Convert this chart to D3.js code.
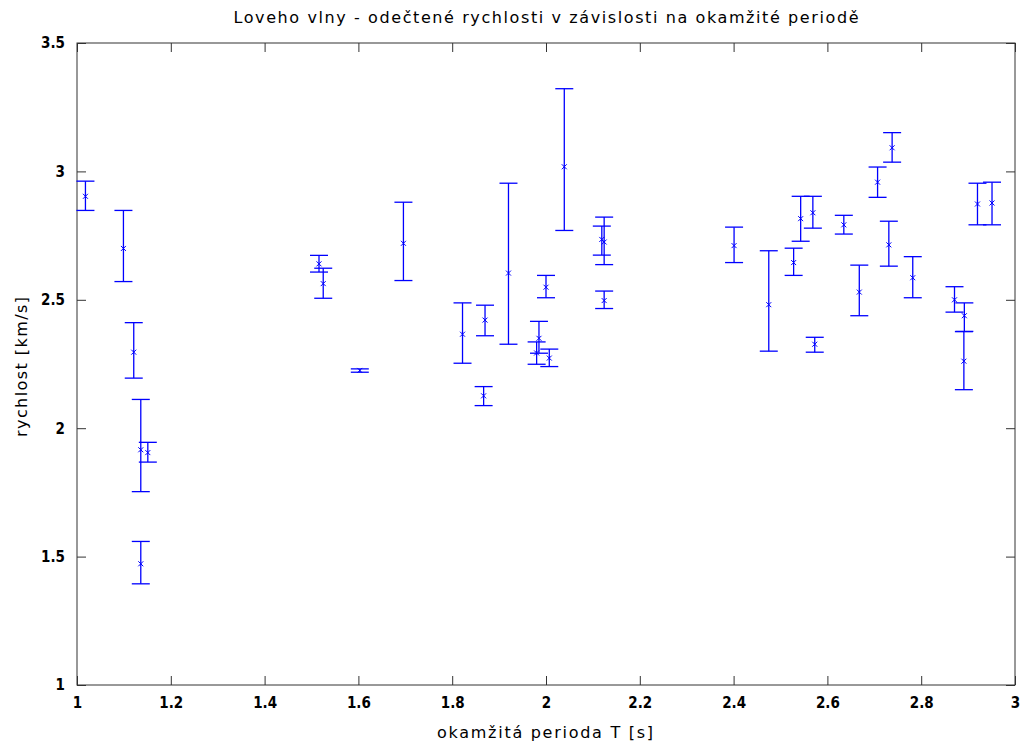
<!DOCTYPE html>
<html>
<head>
<meta charset="utf-8">
<script src="https://cdn.jsdelivr.net/npm/d3@7"></script>
<style>
  body { margin: 0; background: #fff; }
  text { font-family: "DejaVu Sans", sans-serif; fill: #000; }
</style>
</head>
<body>
<div id="graph"></div>
<script>
// period T [s], velocity [km/s], lower / upper error bar ends
const period = [1.018, 1.099, 1.121, 1.136, 1.151, 1.136, 1.516, 1.525, 1.603, 1.696,
    1.822, 1.870, 1.867, 1.920, 2.039, 2.000, 1.985, 2.007, 1.980, 2.124,
    2.119, 2.124, 2.401, 2.475, 2.528, 2.543, 2.569, 2.573, 2.635, 2.668,
    2.707, 2.738, 2.731, 2.782, 2.871, 2.892, 2.891, 2.920, 2.951];
const velocity = [2.903, 2.700, 2.296, 1.916, 1.905, 1.472, 2.640, 2.563, 2.225, 2.720,
    2.366, 2.421, 2.126, 2.604, 3.018, 2.549, 2.350, 2.273, 2.293, 2.725,
    2.735, 2.497, 2.711, 2.481, 2.645, 2.816, 2.839, 2.327, 2.792, 2.530,
    2.958, 3.092, 2.714, 2.586, 2.500, 2.438, 2.261, 2.873, 2.877];
const velLow = [2.848, 2.571, 2.195, 1.753, 1.868, 1.394, 2.608, 2.506, 2.218, 2.575,
    2.253, 2.360, 2.088, 2.327, 2.770, 2.508, 2.292, 2.240, 2.249, 2.637,
    2.674, 2.466, 2.645, 2.300, 2.595, 2.728, 2.779, 2.296, 2.756, 2.438,
    2.899, 3.036, 2.631, 2.508, 2.452, 2.377, 2.150, 2.792, 2.792];
const velHigh = [2.962, 2.848, 2.411, 2.112, 1.945, 1.559, 2.673, 2.623, 2.231, 2.880,
    2.488, 2.479, 2.162, 2.954, 3.322, 2.595, 2.416, 2.308, 2.336, 2.822,
    2.787, 2.534, 2.783, 2.691, 2.701, 2.903, 2.903, 2.354, 2.829, 2.635,
    3.017, 3.151, 2.806, 2.668, 2.551, 2.488, 2.376, 2.954, 2.958];

const xTicks = [1, 1.2, 1.4, 1.6, 1.8, 2, 2.2, 2.4, 2.6, 2.8, 3];
const yTicks = [1, 1.5, 2, 2.5, 3, 3.5];

const titleText = "Loveho vlny - odečtené rychlosti v závislosti na okamžité periodě";
const xLabel = "okamžitá perioda T [s]";
const yLabel = "rychlost [km/s]";

const margin = {top: 43, right: 10, bottom: 57, left: 77},
    width = 1025 - margin.left - margin.right,
    height = 742 - margin.top - margin.bottom;

const svg = d3.select("#graph")
    .append("svg")
    .attr("width", 1025)
    .attr("height", 742);

const g = svg.append("g")
    .attr("transform", "translate(" + margin.left + "," + margin.top + ")");

const x = d3.scaleLinear().domain([1, 3]).range([0, width]);
const y = d3.scaleLinear().domain([1, 3.5]).range([height, 0]);

const data = period.map(function(p, i) {
    return {t: p, v: velocity[i], lo: velLow[i], hi: velHigh[i]};
});

// axes, ticks pointing inward like matlab box
const tickLen = 9;
function styleAxis(sel) {
    sel.select(".domain").remove();
    sel.selectAll(".tick line").attr("stroke", "#333");
    sel.selectAll(".tick text")
        .style("font-family", "DejaVu Sans Condensed, DejaVu Sans, sans-serif")
        .style("font-size", "15px")
        .style("font-weight", "bold");
}

g.append("g")
    .attr("transform", "translate(0," + height + ")")
    .call(d3.axisBottom(x).tickValues(xTicks).tickSize(-tickLen).tickPadding(12).tickFormat(d3.format("")))
    .call(styleAxis);
g.append("g")
    .call(d3.axisTop(x).tickValues(xTicks).tickSize(-tickLen).tickFormat(""))
    .call(styleAxis);
g.append("g")
    .call(d3.axisLeft(y).tickValues(yTicks).tickSize(-tickLen).tickPadding(12).tickFormat(d3.format("")))
    .call(styleAxis);
g.append("g")
    .attr("transform", "translate(" + width + ",0)")
    .call(d3.axisRight(y).tickValues(yTicks).tickSize(-tickLen).tickFormat(""))
    .call(styleAxis);

g.append("rect")
    .attr("width", width)
    .attr("height", height)
    .attr("fill", "none")
    .attr("stroke", "#333")
    .attr("stroke-width", 1);

// error bars
const cap = 9;
const bars = g.selectAll(".bar")
    .data(data)
    .enter().append("g")
    .attr("class", "bar")
    .attr("stroke", "#0000ff")
    .attr("stroke-width", 1.3)
    .attr("fill", "none");

bars.append("line")
    .attr("x1", function(d) { return x(d.t); })
    .attr("x2", function(d) { return x(d.t); })
    .attr("y1", function(d) { return y(d.lo); })
    .attr("y2", function(d) { return y(d.hi); });
bars.append("line")
    .attr("x1", function(d) { return x(d.t) - cap; })
    .attr("x2", function(d) { return x(d.t) + cap; })
    .attr("y1", function(d) { return y(d.hi); })
    .attr("y2", function(d) { return y(d.hi); });
bars.append("line")
    .attr("x1", function(d) { return x(d.t) - cap; })
    .attr("x2", function(d) { return x(d.t) + cap; })
    .attr("y1", function(d) { return y(d.lo); })
    .attr("y2", function(d) { return y(d.lo); });

// x markers
const m = 2.5;
bars.append("path")
    .attr("stroke-width", 1)
    .attr("d", function(d) {
        const cx = x(d.t), cy = y(d.v);
        return "M" + (cx - m) + "," + (cy - m) + "L" + (cx + m) + "," + (cy + m) +
            "M" + (cx - m) + "," + (cy + m) + "L" + (cx + m) + "," + (cy - m);
    });

// labels (matlab spreads its glyphs, so stretch to the measured widths)
svg.append("text")
    .attr("x", 546)
    .attr("y", 23)
    .attr("text-anchor", "middle")
    .attr("textLength", 625)
    .attr("lengthAdjust", "spacing")
    .style("font-size", "16px")
    .text(titleText);

svg.append("text")
    .attr("x", 545)
    .attr("y", 738)
    .attr("text-anchor", "middle")
    .attr("textLength", 216)
    .attr("lengthAdjust", "spacing")
    .style("font-size", "16px")
    .text(xLabel);

svg.append("text")
    .attr("transform", "translate(27,367) rotate(-90)")
    .attr("text-anchor", "middle")
    .attr("textLength", 140)
    .attr("lengthAdjust", "spacing")
    .style("font-size", "16px")
    .text(yLabel);
</script>
</body>
</html>
